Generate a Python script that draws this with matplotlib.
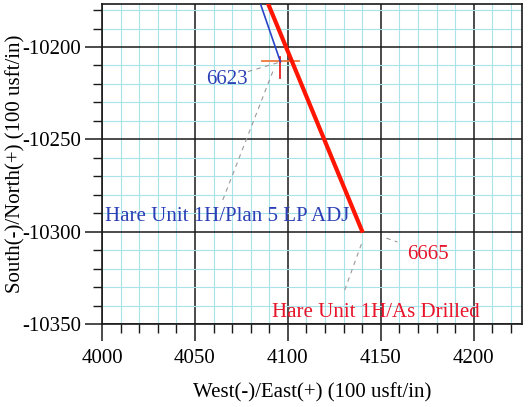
import numpy as np
import matplotlib
matplotlib.use('Agg')
import matplotlib.pyplot as plt
from matplotlib.ticker import MultipleLocator

plt.rcParams['font.family'] = ['Liberation Serif', 'DejaVu Serif']
plt.rcParams['axes.unicode_minus'] = False

# Plan and as-drilled tracks (East, North)
plan_east = [4083, 4096]
plan_north = [-10170, -10208]
drilled_east = [4086.7, 4140.3]
drilled_north = [-10170, -10300.5]
target_east = 4096
target_north = -10207.5

# labels: text, text position, colour, alignment
labels = [
    ('6623', (4067.2, -10217.7), '#2a3fb5', 'center'),
    ('Hare Unit 1H/Plan 5 LP ADJ', (4001.4, -10292.0), '#2a3fb5', 'left'),
    ('6665', (4175.3, -10312.6), '#e8142a', 'center'),
    ('Hare Unit 1H/As Drilled', (4091.5, -10344.0), '#e8142a', 'left'),
]
leaders = [
    ((4078.5, -10213.3), (4094.6, -10208.5)),
    ((4065.0, -10282.8), (4091.9, -10213.3)),
    ((4153.0, -10303.5), (4159.0, -10305.6)),
    ((4130.6, -10331.6), (4139.8, -10306.1)),
]

fig = plt.figure(figsize=(5.29, 4.07), dpi=100)
ax = fig.add_axes([102 / 529, 1 - 324 / 407, 420 / 529, 320 / 407])

ax.set_xlim(4000, 4226)
ax.set_ylim(-10350, -10176.7)

ax.xaxis.set_major_locator(MultipleLocator(50))
ax.xaxis.set_minor_locator(MultipleLocator(10))
ax.yaxis.set_major_locator(MultipleLocator(50))
ax.yaxis.set_minor_locator(MultipleLocator(10))

ax.grid(which='minor', color='#a9e3ea', linewidth=0.8)
ax.grid(which='major', color='#1a1a1a', linewidth=1.1)
ax.set_axisbelow(True)

for s in ax.spines.values():
    s.set_linewidth(1.2)
    s.set_color('#1a1a1a')

ax.tick_params(which='major', length=12, width=1.1, labelsize=15, color='#1a1a1a')
ax.tick_params(which='minor', length=6.5, width=1.0, color='#1a1a1a')
ax.tick_params(axis='x', which='major', pad=6)
ax.tick_params(axis='y', which='major', pad=3)

# leader lines
for (x0, y0), (x1, y1) in leaders:
    ax.plot([x0, x1], [y0, y1], color='#999999', lw=0.8, ls=(0, (4, 4)), zorder=3)

# target cross
ax.plot([target_east - 10, target_east + 10], [target_north, target_north],
        color='#ee7a40', lw=1.3, zorder=4)
ax.plot([target_east, target_east], [target_north + 2, target_north - 9.5],
        color='#e82020', lw=1.3, zorder=4)

ax.plot(plan_east, plan_north, color='#2a45c8', lw=1.2, zorder=5)
ax.plot(drilled_east, drilled_north, color='#ff1500', lw=3.0, zorder=6,
        solid_capstyle='butt')

for text, pos, col, ha in labels:
    ax.text(pos[0], pos[1], text, color=col, fontsize=15, ha=ha, va='center', zorder=7)

ax.set_xlabel('West(-)/East(+) (100 usft/in)', fontsize=15, labelpad=11)
ax.set_ylabel('South(-)/North(+) (100 usft/in)', fontsize=15)
ax.yaxis.set_label_coords(-0.181, 0.5)

fig.savefig('out.png', dpi=100)
